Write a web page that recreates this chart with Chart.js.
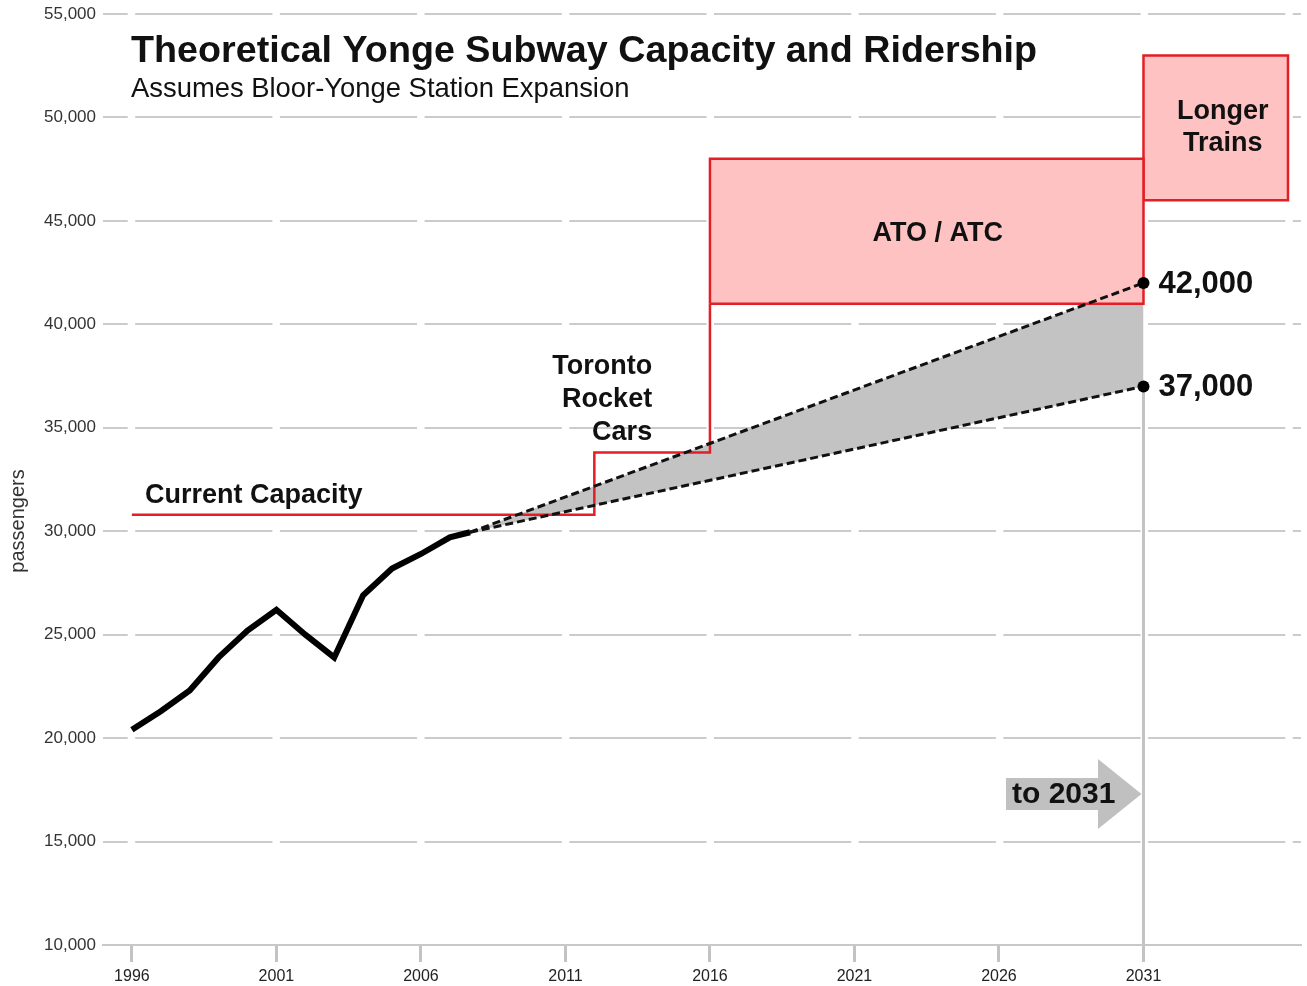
<!DOCTYPE html>
<html>
<head>
<meta charset="utf-8">
<title>Theoretical Yonge Subway Capacity and Ridership</title>
<script src="https://cdn.jsdelivr.net/npm/chart.js@4.4.1/dist/chart.umd.min.js"></script>
<style>
body { margin: 0; background: #fff; }
#grafico { display: block; }
</style>
</head>
<body>
<canvas id="grafico" width="1307" height="986"></canvas>
<script>
// ridership history
const anos = [1996, 1997, 1998, 1999, 2000, 2001, 2002, 2003, 2004, 2005, 2006, 2007]
const passageiros = [20400, 21300, 22300, 23900, 25200, 26200, 25000, 23900, 26900, 28200, 28900, 29700]

// projection (start of the dashed lines, then the two 2031 estimates)
const inicioAno = 2007.7
const inicioValor = 29950
const fimAno = 2031
const projAlta = 42000
const projBaixa = 37000

// capacity steps
const capAnos = [1996, 2012, 2012, 2016, 2016]
const capValores = [30800, 30800, 33800, 33800, 41000]

// capacity boxes
const atoAnos = [2016, 2031]
const atoFaixa = [41000, 48000]
const trensAnos = [2031, 2036]
const trensFaixa = [46000, 53000]

// axes
const xTicks = [1996, 2001, 2006, 2011, 2016, 2021, 2026, 2031]
const xMin = 1995
const xMax = 2036.45
const yMin = 10000
const yMax = 55000
const yPasso = 5000

const fonte = "'Liberation Sans', Arial, Helvetica, sans-serif"
const vermelho = "#e41e26"
const rosa = "#ffc2c2"
const cinza = "#c3c3c3"

function caixa(anosX, faixa){
  return [
    {x: anosX[0], y: faixa[0]},
    {x: anosX[0], y: faixa[1]},
    {x: anosX[1], y: faixa[1]},
    {x: anosX[1], y: faixa[0]},
    {x: anosX[0], y: faixa[0]}
  ]
}

const textos = {
  id: "textos",
  afterDatasetsDraw(chart){
    const c = chart.ctx
    const sx = chart.scales.x
    const sy = chart.scales.y
    c.save()
    c.fillStyle = "#111"

    // title
    c.textAlign = "left"
    c.textBaseline = "alphabetic"
    c.font = "bold 37.7px " + fonte
    c.fillText("Theoretical Yonge Subway Capacity and Ridership", 131, 62)
    c.font = "27.4px " + fonte
    c.fillText("Assumes Bloor-Yonge Station Expansion", 131, 97)

    // axis title
    c.save()
    c.translate(18, 521)
    c.rotate(-Math.PI/2)
    c.textAlign = "center"
    c.textBaseline = "middle"
    c.fillStyle = "#333"
    c.font = "20px " + fonte
    c.fillText("passengers", 0, 0)
    c.restore()

    // current capacity
    c.font = "bold 27px " + fonte
    c.textAlign = "left"
    c.textBaseline = "alphabetic"
    c.fillText("Current Capacity", sx.getPixelForValue(1996) + 13, sy.getPixelForValue(capValores[0]) - 12)

    // toronto rocket cars
    c.textAlign = "right"
    c.textBaseline = "middle"
    const xTr = sx.getPixelForValue(2014)
    const yTr = sy.getPixelForValue(capValores[2]) - 86
    c.fillText("Toronto", xTr, yTr)
    c.fillText("Rocket", xTr, yTr + 33)
    c.fillText("Cars", xTr, yTr + 66)

    // ATO / ATC
    c.textAlign = "center"
    const xAto = (sx.getPixelForValue(atoAnos[0]) + sx.getPixelForValue(atoAnos[1])) / 2 + 11
    const yAto = (sy.getPixelForValue(atoFaixa[0]) + sy.getPixelForValue(atoFaixa[1])) / 2 + 2
    c.fillText("ATO / ATC", xAto, yAto)

    // longer trains
    const xLt = (sx.getPixelForValue(trensAnos[0]) + sx.getPixelForValue(trensAnos[1])) / 2 + 7
    const yLt = (sy.getPixelForValue(trensFaixa[0]) + sy.getPixelForValue(trensFaixa[1])) / 2
    c.fillText("Longer", xLt, yLt - 16)
    c.fillText("Trains", xLt, yLt + 16)

    // 2031 values
    c.textAlign = "left"
    c.font = "bold 31px " + fonte
    const xv = sx.getPixelForValue(fimAno) + 15
    c.fillText(projAlta.toLocaleString("en-US"), xv, sy.getPixelForValue(projAlta) + 1)
    c.fillText(projBaixa.toLocaleString("en-US"), xv, sy.getPixelForValue(projBaixa) + 1)

    // arrow "to 2031"
    const ponta = sx.getPixelForValue(fimAno) - 2
    const meio = 794
    c.fillStyle = "#c0c0c0"
    c.beginPath()
    c.moveTo(1006, meio - 16)
    c.lineTo(1098, meio - 16)
    c.lineTo(1098, meio - 35)
    c.lineTo(ponta, meio)
    c.lineTo(1098, meio + 35)
    c.lineTo(1098, meio + 16)
    c.lineTo(1006, meio + 16)
    c.closePath()
    c.fill()
    c.fillStyle = "#111"
    c.font = "bold 30px " + fonte
    c.textAlign = "left"
    c.fillText("to " + fimAno, 1012, meio + 1)

    c.restore()
  }
}

const serieHist = anos.map((a, i) => ({x: a, y: passageiros[i]}))
serieHist.push({x: inicioAno, y: inicioValor})

const ctx = document.getElementById("grafico").getContext("2d")

const grafico = new Chart(ctx, {
  type: "line",
  data: {
    datasets: [
      {
        label: "band high",
        data: [{x: inicioAno, y: inicioValor}, {x: fimAno, y: projAlta}],
        borderWidth: 0,
        pointRadius: 0,
        fill: false,
        order: 10
      },
      {
        label: "band low",
        data: [{x: inicioAno, y: inicioValor}, {x: fimAno, y: projBaixa}],
        borderWidth: 0,
        pointRadius: 0,
        backgroundColor: cinza,
        fill: 0,
        order: 10
      },
      {
        label: "2031 line",
        data: [{x: fimAno, y: yMin}, {x: fimAno, y: projBaixa}],
        borderColor: "#c3c3c3",
        borderWidth: 3,
        pointRadius: 0,
        order: 9
      },
      {
        label: "ATO / ATC",
        data: caixa(atoAnos, atoFaixa),
        borderColor: vermelho,
        backgroundColor: rosa,
        borderWidth: 2.5,
        borderJoinStyle: "miter",
        pointRadius: 0,
        fill: "shape",
        order: 8
      },
      {
        label: "Longer Trains",
        data: caixa(trensAnos, trensFaixa),
        borderColor: vermelho,
        backgroundColor: rosa,
        borderWidth: 2.5,
        borderJoinStyle: "miter",
        pointRadius: 0,
        fill: "shape",
        order: 8
      },
      {
        label: "Current Capacity",
        data: capAnos.map((a, i) => ({x: a, y: capValores[i]})),
        borderColor: vermelho,
        borderWidth: 2.5,
        borderJoinStyle: "miter",
        pointRadius: 0,
        order: 7
      },
      {
        label: "high",
        data: [{x: inicioAno, y: inicioValor}, {x: fimAno, y: projAlta}],
        borderColor: "#111",
        borderWidth: 3,
        borderDash: [8, 4],
        pointRadius: 0,
        order: 6
      },
      {
        label: "low",
        data: [{x: inicioAno, y: inicioValor}, {x: fimAno, y: projBaixa}],
        borderColor: "#111",
        borderWidth: 3,
        borderDash: [8, 4],
        pointRadius: 0,
        order: 6
      },
      {
        label: "Ridership",
        data: serieHist,
        borderColor: "#000",
        borderWidth: 6,
        borderJoinStyle: "miter",
        pointRadius: 0,
        order: 5
      },
      {
        label: "2031",
        data: [{x: fimAno, y: projAlta}, {x: fimAno, y: projBaixa}],
        showLine: false,
        pointRadius: 6,
        pointBackgroundColor: "#000",
        pointBorderColor: "#000",
        pointBorderWidth: 0,
        order: 4
      }
    ]
  },
  options: {
    responsive: false,
    animation: false,
    layout: { padding: { top: 14, right: 2, left: 0, bottom: 0 } },
    plugins: {
      legend: { display: false },
      tooltip: { enabled: false }
    },
    scales: {
      x: {
        type: "linear",
        min: xMin,
        max: xMax,
        afterBuildTicks: s => { s.ticks = xTicks.map(v => ({value: v})) },
        ticks: {
          callback: v => String(v),
          font: { family: fonte, size: 16 },
          color: "#222",
          padding: 5,
          maxRotation: 0,
          autoSkip: false
        },
        grid: {
          drawOnChartArea: false,
          drawTicks: true,
          tickLength: 17,
          tickColor: "#c3c3c3",
          tickWidth: 3
        },
        border: { display: true, color: "#c8c8c8", width: 2 },
        afterFit: s => {
          s.height = 41
          s.paddingLeft = 0
          s.paddingRight = 0
        }
      },
      y: {
        min: yMin,
        max: yMax,
        ticks: {
          stepSize: yPasso,
          callback: v => v.toLocaleString("en-US"),
          font: { family: fonte, size: 17 },
          color: "#333",
          padding: 7
        },
        grid: { color: "#cbcbcb", lineWidth: 2, drawTicks: false },
        border: { display: false, dash: [137.2, 7.5], dashOffset: 112.5 },
        afterFit: s => {
          s.width = 103
          s.paddingTop = 0
          s.paddingBottom = 0
        }
      }
    }
  },
  plugins: [textos]
})
</script>
</body>
</html>
